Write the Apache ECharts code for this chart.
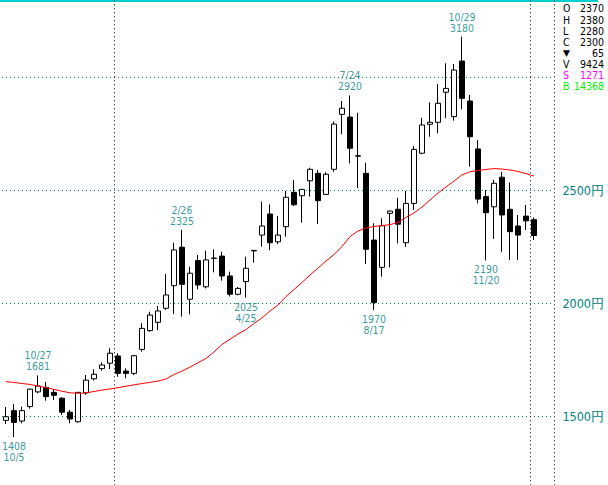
<!DOCTYPE html>
<html><head><meta charset="utf-8">
<script src="https://cdn.jsdelivr.net/npm/echarts@6/dist/echarts.min.js"></script>
<style>html,body{margin:0;padding:0;background:#fff}#c{width:608px;height:485px}</style>
</head><body><div id="c"></div>
<script>
// weekly categories (last two are empty slots on the right)
const weeks = ['2015/09/28','2015/10/05','2015/10/12','2015/10/19','2015/10/26','2015/11/02','2015/11/09','2015/11/16','2015/11/23','2015/11/30','2015/12/07','2015/12/14','2015/12/21','2015/12/28','2016/01/04','2016/01/11','2016/01/18','2016/01/25','2016/02/01','2016/02/08','2016/02/15','2016/02/22','2016/02/29','2016/03/07','2016/03/14','2016/03/21','2016/03/28','2016/04/04','2016/04/11','2016/04/18','2016/04/25','2016/05/02','2016/05/09','2016/05/16','2016/05/23','2016/05/30','2016/06/06','2016/06/13','2016/06/20','2016/06/27','2016/07/04','2016/07/11','2016/07/18','2016/07/25','2016/08/01','2016/08/08','2016/08/15','2016/08/22','2016/08/29','2016/09/05','2016/09/12','2016/09/19','2016/09/26','2016/10/03','2016/10/10','2016/10/17','2016/10/24','2016/10/31','2016/11/07','2016/11/14','2016/11/21','2016/11/28','2016/12/05','2016/12/12','2016/12/19','2016/12/26','2017/01/02','2017/01/09','2017/01/16'];
const opens  = [1482,1525,1479,1543,1608,1628,1606,1580,1518,1476,1604,1666,1711,1735,1767,1700,1690,1796,1879,1916,1978,2078,2248,2018,2189,2073,2199,2209,2121,2040,2096,2234,2302,2395,2272,2339,2491,2476,2542,2575,2482,2593,2836,2824,2651,2575,2280,2159,2398,2416,2268,2442,2664,2792,2801,2934,2826,3072,2895,2683,2472,2427,2558,2416,2342,2386,2370];
const closes = [1498,1473,1525,1620,1634,1587,1593,1518,1488,1606,1660,1686,1727,1779,1690,1690,1768,1889,1948,1966,2037,2236,2084,2133,2081,2192,2200,2121,2040,2066,2155,2232,2342,2268,2302,2469,2436,2504,2593,2454,2571,2793,2863,2686,2653,2239,2003,2343,2408,2350,2442,2681,2789,2801,2885,2951,3032,2907,2737,2461,2401,2531,2391,2317,2302,2365,2300];
const highs  = [1541,1554,1542,1622,1681,1652,1621,1584,1528,1606,1683,1708,1739,1801,1779,1712,1771,1912,1963,1988,2130,2268,2325,2162,2214,2233,2239,2228,2140,2072,2206,2234,2450,2438,2386,2497,2546,2506,2600,2590,2580,2804,2895,2920,2843,2622,2354,2376,2410,2467,2497,2696,2821,2889,2970,3062,3059,3180,2922,2723,2501,2546,2582,2535,2391,2435,2380];
const lows   = [1466,1408,1469,1534,1602,1569,1572,1506,1469,1472,1595,1658,1702,1709,1675,1668,1683,1786,1874,1882,1970,1953,1941,1951,2062,2066,2137,2100,2030,2035,2025,2180,2250,2235,2262,2295,2430,2357,2472,2351,2480,2582,2748,2619,2509,2174,1970,2118,2159,2265,2250,2413,2660,2737,2752,2819,2808,2858,2604,2442,2190,2285,2228,2192,2192,2324,2280];
const ma26   = [1653,1650,1645,1641,1634,1627,1619,1611,1604,1602,1603,1610,1616,1621,1627,1633,1639,1645,1650,1656,1665,1685,1700,1718,1737,1756,1785,1818,1841,1864,1884,1911,1935,1966,1992,2030,2061,2092,2125,2156,2187,2216,2251,2295,2320,2333,2340,2344,2348,2358,2380,2400,2426,2457,2488,2515,2541,2568,2582,2588,2592,2596,2594,2590,2583,2574,2563];
const yTicks      = [1500, 2000, 2500, 3000];
const yTickLabels = ['1500円', '2000円', '2500円', ''];
const yearStarts  = ['2016/01/04', '2017/01/02'];
const highNotes = [[4,'10/27'],[22,'2/26'],[43,'7/24'],[57,'10/29']];
const lowNotes  = [[1,'10/5'],[30,'4/25'],[46,'8/17'],[60,'11/20']];
const infoVolume = 9424;
const infoS = 1271;
const infoB = 14368;

const TEAL = '#008080';
const FONT = '"Liberation Sans Narrow","DejaVu Sans Condensed",sans-serif';

const n = opens.length;
const last = n - 1;
const change = closes[last] - closes[last - 1];
const infoRows = [
  ['O', opens[last], '#000'],
  ['H', highs[last], '#000'],
  ['L', lows[last], '#000'],
  ['C', closes[last], '#000'],
  [change < 0 ? '▼' : '▲', Math.abs(change), '#000'],
  ['V', infoVolume, '#000'],
  ['S', infoS, '#ff00ff'],
  ['B', infoB, '#00ee00']
];
const rowY = [8, 19.5, 30.5, 41.5, 52.5, 63.5, 74.5, 85.5];
const graphic = [{type:'rect', shape:{x:0, y:0, width:598, height:2}, style:{fill:'#00d0d0'}, silent:true}];
infoRows.forEach((r, k) => {
  graphic.push({type:'text', x:563, y:rowY[k], silent:true,
    style:{text:r[0], fill:r[2], font:(r[0]==='▼'||r[0]==='▲' ? '9px "DejaVu Sans"' : '10.5px ' + FONT), textAlign:'left', textVerticalAlign:'middle'}});
  graphic.push({type:'text', x:604, y:rowY[k], silent:true,
    style:{text:String(r[1]), fill:r[2], font:'10.5px ' + FONT, textAlign:'right', textVerticalAlign:'middle'}});
});

const candleData = opens.map((o, i) => [o, closes[i], lows[i], highs[i]]);

// price annotations: one scatter per text line
const noteLabel = (pos, dist, key) => ({show:true, position:pos, distance:dist, color:TEAL, fontFamily:FONT, fontSize:10.5, align:'center',
  formatter: p => String(p.data[key])});
const hiPts = highNotes.map(h => ({value:[h[0], highs[h[0]]], note:h[1], price:highs[h[0]]}));
const loPts = lowNotes.map(l => ({value:[l[0], lows[l[0]]], note:l[1], price:lows[l[0]]}));
const noteSeries = (data, pos, dist, key) => ({
  type:'scatter', symbolSize:1, z:4, itemStyle:{color:'rgba(0,0,0,0)'}, data:data, label:noteLabel(pos, dist, key)
});

const chart = echarts.init(document.getElementById('c'), null, {renderer:'svg'});
chart.setOption({
  animation: false,
  backgroundColor: '#fff',
  grid: {left: 2, width: 552, top: -35.7, height: 565, containLabel: false, outerBoundsMode: 'none'},
  xAxis: {
    type: 'category', data: weeks, boundaryGap: true,
    axisLine: {show:false}, axisTick: {show:false}, axisLabel: {show:false},
    splitLine: {show:true, interval: (idx, val) => yearStarts.indexOf(val) >= 0,
      lineStyle: {color:'#000', width:1, type:[1,3]}}
  },
  yAxis: {
    type: 'value', position: 'right', min: 1000, max: 3500, interval: 500,
    axisLine: {show:false}, axisTick: {show:false},
    splitLine: {show:true, lineStyle: {color:TEAL, width:1, type:[1,3]}},
    axisLabel: {show:true, margin:50, align:'right', color:TEAL, fontFamily:FONT, fontSize:12.5,
      formatter: v => { const k = yTicks.indexOf(v); return k >= 0 ? yTickLabels[k] : ''; }}
  },
  graphic: graphic,
  series: [
    {
      type: 'candlestick', data: candleData, barWidth: 6, z: 2,
      itemStyle: {color:'#fff', color0:'#000', borderColor:'#000', borderColor0:'#000', borderColorDoji:'#000', borderWidth:1}
    },
    {
      type: 'line', data: ma26, symbol: 'none', z: 3, smooth: false,
      lineStyle: {color:'#ff0000', width:1}
    },
    noteSeries(hiPts, 'top', 3, 'price'),
    noteSeries(hiPts, 'top', 14, 'note'),
    noteSeries(loPts, 'bottom', 3, 'price'),
    noteSeries(loPts, 'bottom', 14, 'note')
  ]
});
</script>
</body></html>
